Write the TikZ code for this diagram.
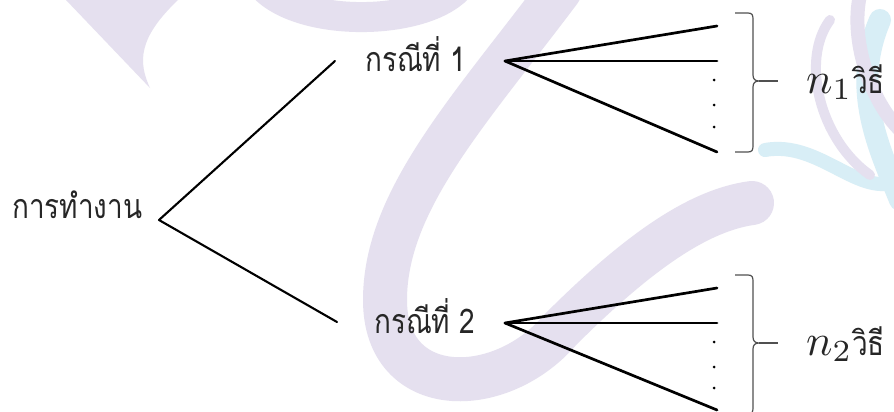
\documentclass[tikz,border=0pt]{standalone}
\usepackage{fontspec}
\newfontfamily\thaifont[Script=Thai]{Loma}
\definecolor{wmlilac}{RGB}{229,224,239}
\definecolor{wmcyan}{RGB}{216,238,246}
\definecolor{bracegray}{RGB}{80,80,80}
% condensed Thai text
\newcommand{\thaitext}[1]{\scalebox{0.82}[1]{#1}}
\newcommand{\bigmath}[1]{\scalebox{4.4}{$#1$}}
\tikzset{
  thailabel/.style={inner sep=0pt, font=\thaifont\fontsize{34}{34}\selectfont, text=black!85},
  mathlabel/.style={inner sep=0pt, text=black!85},
  branch/.style={line width=2.1pt, line cap=round, line join=round},
  fanline/.style={line width=2.7pt, line cap=round},
  bracestroke/.style={bracegray, line width=1.2pt, line join=round},
  wm/.style={line cap=round},
}
\begin{document}
\begin{tikzpicture}[x=1pt,y=-1pt]
\useasboundingbox (0,0) rectangle (894,412);
\fill[white] (0,0) rectangle (894,412);
\begin{scope}
\clip (0,0) rectangle (894,412);
% background ornament
\fill[wmlilac] (66,0) -- (150,88) .. controls (138,62) and (138,38) .. (178,0) -- cycle;
\draw[wmlilac, line width=30pt] (258,-20) .. controls (290,28) and (420,28) .. (458,-12);
\draw[wmlilac, wm, line width=44pt] (560,-10) .. controls (470,110) and (385,200) .. (385,300)
  .. controls (385,400) and (500,400) .. (560,330) .. controls (640,250) and (700,210) .. (752,203);
\draw[wmcyan, wm, line width=14pt] (765,150) .. controls (820,140) and (860,200) .. (900,180);
\draw[wmcyan, wm, line width=22pt] (880,20) .. controls (850,90) and (880,150) .. (900,200);
\draw[wmlilac, wm, line width=10pt] (830,20) .. controls (800,60) and (820,140) .. (870,175);
\draw[wmlilac, wm, line width=14pt] (860,-5) .. controls (850,40) and (870,100) .. (900,130);

% tree
\node[thailabel, anchor=base west] (root) at (12,218) {\thaitext{การทำงาน}};
\node[thailabel, anchor=base west] (case1) at (365,72) {\thaitext{กรณีที่ 1}};
\node[thailabel, anchor=base west] (case2) at (374,333) {\thaitext{กรณีที่ 2}};

\coordinate (fork) at (159,220);
\coordinate (end1) at (335,61);
\coordinate (end2) at (337,322);
\draw[branch] (end1) -- (fork) -- (end2);

\coordinate (fan1) at (505,61);
\coordinate (fan2) at (505,323);
\foreach \f/\a/\b/\c in {fan1/26/61/152, fan2/288/323/410}{
  \draw[fanline] (\f) -- (717,\a);
  \draw[fanline] (\f) -- (717,\b);
  \draw[fanline] (\f) -- (717,\c);
}
\foreach \y in {80,105,127,342,367,388}
  \fill (714,\y) circle (1.5pt);

% braces
\draw[bracestroke] (735,13) -- (748,13) .. controls (752,13) and (753,15) .. (753,19) -- (753,75)
  .. controls (753,79) and (755,81) .. (759,81) .. controls (755,81) and (753,83) .. (753,87)
  -- (753,146) .. controls (753,150) and (752,152) .. (748,152) -- (735,152);
\draw[bracestroke] (759,81) -- (778,81);
\draw[bracestroke] (735,275) -- (748,275) .. controls (752,275) and (753,277) .. (753,281) -- (753,337)
  .. controls (753,341) and (755,343) .. (759,343) .. controls (755,343) and (753,345) .. (753,349)
  -- (753,408) .. controls (753,412) and (752,414) .. (748,414) -- (735,414);
\draw[bracestroke] (759,343) -- (778,343);

\node[mathlabel, anchor=base west] (n1) at (806,93) {\bigmath{n_1}};
\node[mathlabel, anchor=base west] (n2) at (806,355) {\bigmath{n_2}};
\node[thailabel, anchor=base west] (way1) at (852,93) {\thaitext{วิธี}};
\node[thailabel, anchor=base west] (way2) at (852,355) {\thaitext{วิธี}};
\end{scope}
\end{tikzpicture}
\end{document}
